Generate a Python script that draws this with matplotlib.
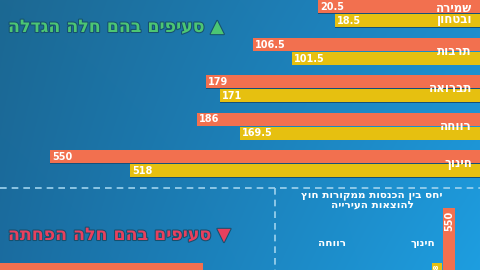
import numpy as np
import matplotlib
matplotlib.use("Agg")
import matplotlib.pyplot as plt
import matplotlib.patheffects as pe

# categories (logical Hebrew order, reversed for display since matplotlib has no bidi)
categories = ["שמירה\nובטחון", "תרבות", "תברואה", "רווחה", "חינוך"]
orange_labels = ["20.5", "106.5", "179", "186", "550"]
yellow_labels = ["18.5", "101.5", "171", "169.5", "518"]
# bar lengths as drawn in the infographic (pixels, not to scale with the labels)
orange_len = [162, 227, 274, 283, 430]
yellow_len = [145, 188, 260, 240, 350]

title_up = "סעיפים בהם חלה הגדלה"
title_down = "סעיפים בהם חלה הפחתה"
ratio_title = ["יחס בין הכנסות ממקורות חוץ", "להוצאות העירייה"]
ratio_cats = ["רווחה", "חינוך"]
ratio_labels = ["518", "550"]
ratio_len = [7, 62]
down_len = [203]

ORANGE = "#f2704f"
YELLOW = "#e6c010"
W, H = 480, 270


def rtl(s):
    # reverse each line so hebrew reads right-to-left
    return "\n".join(line[::-1] for line in s.split("\n"))


fig = plt.figure(figsize=(4.8, 2.7), dpi=100)
ax = fig.add_axes([0, 0, 1, 1])
ax.set_xlim(0, W)
ax.set_ylim(H, 0)
ax.axis("off")

# background gradient
tl, tr = np.array([28, 104, 146]), np.array([30, 140, 204])
bl, br = np.array([26, 108, 160]), np.array([30, 158, 224])
u = np.linspace(0, 1, W)[None, :, None]
v = np.linspace(0, 1, H)[:, None, None]
bg = (tl * (1 - u) * (1 - v) + tr * u * (1 - v) + bl * (1 - u) * v + br * u * v) / 255
ax.imshow(bg, extent=(0, W, H, 0), aspect="auto", zorder=0)

# top section: bars grow leftwards from the right edge
bh = 13
tops = np.arange(len(categories)) * 37.5
ax.barh(tops + bh / 2 + 0.8, -np.array(orange_len), left=W, height=bh, color="#14507a", zorder=1.5)
ax.barh(tops + bh / 2, -np.array(orange_len), left=W, height=bh, color=ORANGE, zorder=2)
ax.barh(tops + bh * 1.5 + 1.8, -np.array(yellow_len), left=W, height=bh, color="#14507a", zorder=1.5)
ax.barh(tops + bh * 1.5 + 1, -np.array(yellow_len), left=W, height=bh, color=YELLOW, zorder=2)
for i in range(len(categories)):
    ax.text(W - orange_len[i] + 2, tops[i] + bh / 2 + 0.5, orange_labels[i], color="white",
            fontsize=7, fontweight="bold", ha="left", va="center", zorder=3)
    ax.text(W - yellow_len[i] + 2, tops[i] + bh * 1.5 + 1.5, yellow_labels[i], color="white",
            fontsize=7, fontweight="bold", ha="left", va="center", zorder=3)
    ax.text(W - 8, tops[i] + bh + 1, rtl(categories[i]), color="white", fontsize=8.5,
            fontweight="bold", ha="right", va="center", linespacing=0.9, zorder=3)

shadow = [pe.withStroke(linewidth=1.5, foreground="#16506e")]
ax.text(8, 27, rtl(title_up) + " ▲", color="#4cc673", fontsize=12.5, fontweight="bold",
        ha="left", va="center", path_effects=shadow, zorder=3)
ax.text(8, 235, rtl(title_down) + " ▼", color="#e8405e", fontsize=12.5, fontweight="bold",
        ha="left", va="center", path_effects=shadow, zorder=3)

# separators
ax.plot([0, W], [188, 188], color="#9fd3ee", lw=1.2, ls=(0, (4, 3)), zorder=1)
ax.plot([275, 275], [188, H], color="#9fd3ee", lw=1.2, ls=(0, (4, 3)), zorder=1)

# lower left bar (cut off)
ax.barh(268, down_len, left=0, height=10, color=ORANGE, zorder=2)

# lower right: ratio chart
ax.text(372, 200, "\n".join(rtl(t) for t in ratio_title), color="white", fontsize=7.5,
        fontweight="bold", ha="center", va="center", linespacing=0.95, zorder=3)
ax.text(332, 243, rtl(ratio_cats[0]), color="white", fontsize=7.5, fontweight="bold",
        ha="center", va="center", zorder=3)
ax.text(423, 243, rtl(ratio_cats[1]), color="white", fontsize=7.5, fontweight="bold",
        ha="center", va="center", zorder=3)
ax.bar([437, 449], [-ratio_len[0], -ratio_len[1]], bottom=H, width=[10, 12],
       color=[YELLOW, ORANGE], zorder=2)
ax.text(449, H - ratio_len[1] + 3, ratio_labels[1], color="white", fontsize=7,
        fontweight="bold", rotation=90, ha="center", va="top", zorder=3)
ax.text(437, H - ratio_len[0] + 1, ratio_labels[0], color="white", fontsize=5,
        fontweight="bold", rotation=90, ha="center", va="top", clip_on=True, zorder=3)

fig.savefig("out.png", dpi=100)
